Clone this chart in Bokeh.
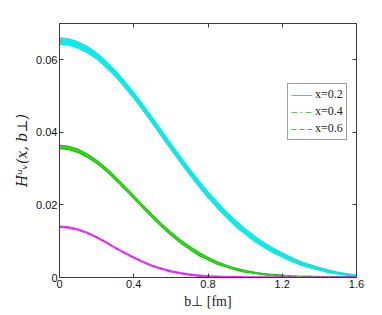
from bokeh.plotting import figure
from bokeh.models import LinearAxis, FixedTicker, Legend, LegendItem
from bokeh.embed import file_html
from bokeh.resources import INLINE

# ---- data ----
b = [0.00, 0.05, 0.10, 0.15, 0.20, 0.25, 0.30, 0.35, 0.40, 0.45, 0.50,
     0.55, 0.60, 0.65, 0.70, 0.75, 0.80, 0.85, 0.90, 0.95, 1.00, 1.05,
     1.10, 1.15, 1.20, 1.25, 1.30, 1.35, 1.40, 1.45, 1.50, 1.55, 1.60]

h_x02 = [0.0652, 0.0649, 0.0641, 0.0628, 0.0611, 0.0588, 0.0563, 0.0533, 0.0502,
         0.0468, 0.0433, 0.0397, 0.0361, 0.0326, 0.0292, 0.0259, 0.0228, 0.0200,
         0.0173, 0.0148, 0.0127, 0.0107, 0.0090, 0.0075, 0.0062, 0.0050, 0.0039,
         0.0031, 0.0024, 0.0017, 0.0012, 0.0008, 0.0004]
w_x02 = [0.0009] * 20 + [0.0008, 0.0008, 0.0007, 0.0007, 0.0006, 0.0006, 0.0005,
                         0.0005, 0.0004, 0.0004, 0.0003, 0.0003, 0.0003]

h_x04 = [0.0360, 0.0357, 0.0349, 0.0336, 0.0319, 0.0298, 0.0274, 0.0248, 0.0222,
         0.0195, 0.0169, 0.0144, 0.0121, 0.0100, 0.0082, 0.0065, 0.0052, 0.0040,
         0.0031, 0.0023, 0.0017, 0.0013, 0.0009, 0.0007, 0.0005, 0.0003, 0.0002,
         0.0002, 0.0001, 0.0001, 0.0001, 0.0000, 0.0000]
w_x04 = [0.0005] * 16 + [0.0004, 0.0004, 0.0003, 0.0003, 0.0003, 0.0002, 0.0002,
                         0.0002, 0.0002, 0.0002, 0.0002, 0.0002, 0.0002, 0.0002,
                         0.0002, 0.0002, 0.0002]

h_x06 = [0.0140, 0.0138, 0.0132, 0.0123, 0.0111, 0.0097, 0.0082, 0.0068, 0.0055,
         0.0043, 0.0032, 0.0024, 0.0017, 0.0012, 0.0008, 0.0005, 0.0003, 0.0002,
         0.0001, 0.0001, 0.0000, 0.0000, 0.0000, 0.0000, 0.0000, 0.0000, 0.0000,
         0.0000, 0.0000, 0.0000, 0.0000, 0.0000, 0.0000]
w_x06 = [0.0002] * 33

x_ticks = [0, 0.4, 0.8, 1.2, 1.6]
x_tick_labels = ["0", "0.4", "0.8", "1.2", "1.6"]
y_ticks = [0, 0.02, 0.04, 0.06]
y_tick_labels = ["0", "0.02", "0.04", "0.06"]
legend_labels = ["x=0.2", "x=0.4", "x=0.6"]

AX = "#3a3a3a"
p = figure(width=374, height=311, x_range=(0, 1.6), y_range=(0, 0.07),
           output_backend="svg", toolbar_location=None,
           min_border_left=59, min_border_right=18, min_border_top=23,
           min_border_bottom=32)
p.xgrid.visible = False
p.ygrid.visible = False
p.outline_line_color = AX
p.background_fill_color = "white"
p.border_fill_color = "white"


def style_axis(ax, ticks, labels, show_labels):
    ax.ticker = FixedTicker(ticks=ticks)
    ax.major_label_overrides = {(0 if t == 0 else t): l for t, l in zip(ticks, labels)}
    ax.major_tick_in = 4
    ax.major_tick_out = 0
    ax.minor_tick_line_color = None
    ax.axis_line_color = AX
    ax.major_tick_line_color = AX
    ax.major_label_text_font = "Liberation Sans"
    ax.major_label_text_font_size = "11px"
    ax.major_label_text_color = "#111111"
    ax.major_label_standoff = 2
    if not show_labels:
        ax.major_label_text_font_size = "0px"
        ax.major_label_standoff = 0
        ax.major_label_text_alpha = 0


bottom = p.below[0]
left = p.left[0]
style_axis(bottom, x_ticks, x_tick_labels, True)
style_axis(left, y_ticks, y_tick_labels, True)
top = LinearAxis()
right = LinearAxis()
style_axis(top, x_ticks, x_tick_labels, False)
style_axis(right, y_ticks, y_tick_labels, False)
p.add_layout(top, "above")
p.add_layout(right, "right")

bottom.axis_label = "b⊥ [fm]"
left.axis_label = "Hᵘᵥ(x, b⊥)"
bottom.axis_label_text_font = "Liberation Serif"
bottom.axis_label_text_font_style = "normal"
bottom.axis_label_text_font_size = "14px"
left.axis_label_text_font = "DejaVu Serif"
left.axis_label_text_font_style = "italic"
left.axis_label_text_font_size = "14px"
for ax in (bottom, left):
    ax.axis_label_text_color = "#222222"
    ax.axis_label_standoff = 3

bands = [
    (h_x02, w_x02, "#00f4f4", "#00d4dc", "#00d4dc"),
    (h_x04, w_x04, "#1ee000", "#10a800", "#10a800"),
    (h_x06, w_x06, "#ff00ff", "#ff00ff", "#7a40ff"),
]
for h, w, fill, edge_up, edge_lo in bands:
    lo = [hi - wi for hi, wi in zip(h, w)]
    up = [hi + wi for hi, wi in zip(h, w)]
    p.varea(x=b, y1=lo, y2=up, fill_color=fill)
    p.line(x=b, y=up, line_color=edge_up, line_width=0.8)
    p.line(x=b, y=lo, line_color=edge_lo, line_width=0.8)

# centre lines (legend styles)
leg_styles = [("#3ccfc0", "solid"), ("#5cc84c", "6 3 2 3"), ("#ff3cff", "5 3")]
items = []
for lab, h, (c, d) in zip(legend_labels, (h_x02, h_x04, h_x06), leg_styles):
    r = p.line(x=b, y=h, line_color=c, line_dash=d, line_width=1)
    items.append(LegendItem(label=lab, renderers=[r]))

legend = Legend(items=items, location=(228, 137))
legend.label_text_font = "Liberation Serif"
legend.label_text_font_size = "12px"
legend.label_text_color = "#222222"
legend.glyph_width = 21
legend.glyph_height = 12
legend.label_height = 12
legend.spacing = 2
legend.padding = 3
legend.margin = 0
legend.label_standoff = 3
legend.border_line_color = AX
legend.border_line_width = 1
legend.background_fill_alpha = 1
p.add_layout(legend, "center")

open("out.html", "w").write(file_html(p, INLINE))
